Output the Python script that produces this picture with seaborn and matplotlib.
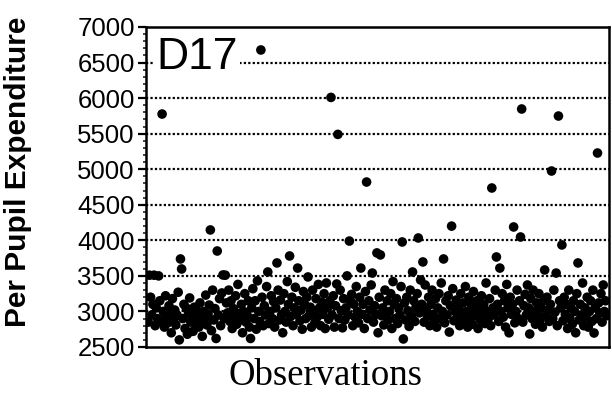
import numpy as np
import pandas as pd
import matplotlib
matplotlib.use("Agg")
import matplotlib.pyplot as plt
import seaborn as sns
from matplotlib.ticker import MultipleLocator

expenditure = [
    2850, 3510, 3200, 2950, 3100, 3510, 2800, 3050, 2900, 3500,
    3150, 2870, 5776, 3000, 2780, 3220, 2930, 2840, 3080, 2960,
    2700, 3180, 2890, 3020, 2810, 2950, 3270, 2600, 3738, 3597,
    2900, 3100, 2760, 3050, 2680, 2980, 3190, 2850, 2920, 2720,
    3060, 2830, 3010, 2940, 2780, 3120, 2870, 2650, 3000, 2900,
    3230, 2810, 2960, 3090, 4146, 2730, 3300, 2880, 3040, 2620,
    3850, 2950, 3180, 2800, 3260, 3513, 2900, 3510, 3120, 2980,
    3300, 2860, 3150, 2760, 3040, 2930, 3220, 2820, 3380, 2970,
    2880, 3100, 2700, 3000, 3250, 2850, 2950, 3150, 2780, 2620,
    3050, 3320, 2900, 3150, 2750, 3430, 3000, 2860, 6677, 3200,
    2800, 3080, 2950, 3350, 3555, 2830, 3000, 3220, 2900, 3140,
    2780, 3050, 3682, 3300, 2880, 3160, 2950, 2700, 3250, 3000,
    2850, 3420, 3100, 3780, 2930, 3200, 2800, 3050, 3340, 2960,
    3610, 3150, 2870, 3020, 2750, 3280, 3100, 2900, 3200, 3485,
    2940, 3060, 2780, 3300, 3000, 2840, 3180, 2920, 3380, 3050,
    2800, 3130, 2960, 3250, 2760, 3400, 3050, 2890, 3150, 6010,
    2950, 3220, 2780, 3080, 3386, 5490, 2900, 3300, 3010, 2770,
    3180, 2880, 3050, 3500, 2950, 3990, 3150, 3240, 2800, 3100,
    2920, 3350, 3000, 2840, 3200, 3610, 2960, 3100, 2760, 3280,
    4820, 2900, 3150, 3020, 3372, 3540, 2850, 3080, 2960, 3823,
    2700, 3200, 3795, 2940, 3050, 2810, 3300, 2980, 3150, 2880,
    3000, 3250, 2760, 3420, 3100, 2900, 3180, 2830, 3050, 2950,
    3350, 3977, 2613, 3120, 2880, 3200, 3010, 2790, 3300, 2940,
    3555, 3150, 2860, 3060, 3250, 4033, 2980, 3443, 3100, 3696,
    2850, 3372, 3020, 2930, 3200, 2800, 3100, 3300, 2960, 2880,
    3180, 2780, 3050, 3250, 2900, 3400, 3000, 3738, 2840, 3150,
    2950, 3220, 2710, 3080, 4200, 3320, 2870, 3000, 3160, 2920,
    3050, 2800, 3250, 2960, 3120, 2860, 3350, 3000, 2780, 3200,
    2900, 3100, 2820, 3280, 3000, 2940, 3150, 2760, 3050, 2880,
    3220, 2970, 3100, 2830, 3400, 3000, 2900, 3180, 2800, 4736,
    3050, 2950, 3300, 3766, 3100, 2860, 3610, 3000, 3250, 2920,
    3150, 2780, 3380, 3050, 2700, 3200, 2960, 3100, 4188, 2840,
    3000, 3300, 2900, 3150, 4047, 5847, 2850, 3080, 3240, 2950,
    3372, 3050, 2683, 3180, 2900, 3300, 3000, 2820, 3120, 2960,
    3250, 2880, 3050, 2780, 3150, 3583, 2940, 3200, 3020, 2860,
    3100, 4975, 2900, 3300, 2990, 3540, 2800, 5748, 3150, 3050,
    3935, 2870, 3200, 2960, 3100, 2760, 3300, 2900, 3050, 2820,
    3150, 3000, 2700, 3250, 3682, 2880, 3100, 2950, 3400, 2800,
    3050, 2920, 3200, 2780, 3000, 3150, 2860, 3300, 2697, 3050,
    2900, 5228, 3120, 2980, 3250, 2850, 3372, 3000, 3150, 2940,
]
observation = list(range(1, len(expenditure) + 1))
y_ticks = [2500, 3000, 3500, 4000, 4500, 5000, 5500, 6000, 6500, 7000]
grid_levels = [3000, 3500, 4000, 4500, 5000, 5500, 6000, 6500]
panel_label = "D17"

df = pd.DataFrame({"obs": observation, "exp": expenditure})

sns.set_theme(style="white")
plt.rcParams['font.family'] = ['Liberation Sans', 'DejaVu Sans']

fig = plt.figure(figsize=(6.12, 3.93), dpi=100)
ax = fig.add_axes([146 / 612, 1 - 347 / 393, (609 - 146) / 612, (347 - 27) / 393])

for g in grid_levels:
    ax.axhline(g, color="black", lw=1.6, ls=(0, (1, 1)), zorder=1)

sns.scatterplot(data=df, x="obs", y="exp", color="black", s=48,
                edgecolor="none", linewidth=0, ax=ax, zorder=3, legend=False)

ax.set_xlim(-1, len(expenditure) + 2)
ax.set_ylim(2500, 7000)
ax.set_yticks(y_ticks)
ax.set_yticklabels([str(t) for t in y_ticks])
ax.yaxis.set_minor_locator(MultipleLocator(100))
ax.set_xticks([])
ax.tick_params(axis="y", which="major", direction="out", length=6, width=1.6,
               labelsize=18.5, pad=2, left=True, colors="black")
ax.tick_params(axis="y", which="minor", direction="out", length=2, width=1.2, left=True)
for sp in ax.spines.values():
    sp.set_visible(True)
    sp.set_color("black")
    sp.set_linewidth(1.8)

ax.set_xlabel("")
ax.set_ylabel("")
fig.text(325 / 612, 1 - 376 / 393, "Observations", family=["Liberation Serif"],
         fontsize=26.5, ha="center", va="center", color="black")
fig.text(18 / 612, 1 - 172 / 393, "Per Pupil Expenditure", fontsize=21.5,
         fontweight="bold", rotation=90, ha="center", va="center", color="black")

ax.text(0.022, 0.97, panel_label, transform=ax.transAxes, fontsize=32,
        ha="left", va="top", color="black", zorder=5,
        bbox=dict(facecolor="white", edgecolor="none", pad=2))

fig.savefig("out.png", dpi=100)
